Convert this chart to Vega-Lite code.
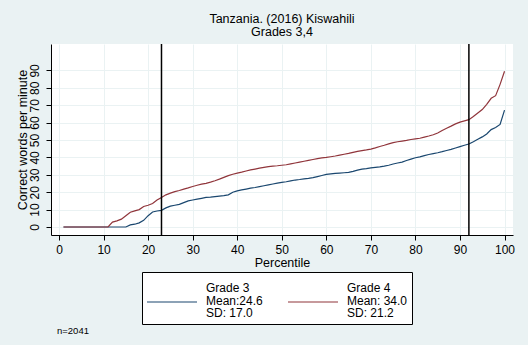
{
"$schema": "https://vega.github.io/schema/vega-lite/v6.json",
"background": "#EAF2F3",
"padding": {"left": 15, "top": 12, "right": 14, "bottom": 10},
"title": {"text": "n=2041", "orient": "bottom", "anchor": "start", "fontSize": 9.5, "fontWeight": "normal", "font": "Liberation Sans", "color": "black", "dx": 41, "offset": 1},
"vconcat": [{
"width": 462, "height": 191,
"title": {"text": ["Tanzania. (2016) Kiswahili", "Grades 3,4"], "fontSize": 12.5, "lineHeight": 13, "fontWeight": "normal", "font": "Liberation Sans", "color": "black", "anchor": "middle", "offset": 5},
"layer": [
{"data": {"values": [
{"p":1,"Grade 3":0,"Grade 4":0},{"p":2,"Grade 3":0,"Grade 4":0},{"p":3,"Grade 3":0,"Grade 4":0},{"p":4,"Grade 3":0,"Grade 4":0},{"p":5,"Grade 3":0,"Grade 4":0},
{"p":6,"Grade 3":0,"Grade 4":0},{"p":7,"Grade 3":0,"Grade 4":0},{"p":8,"Grade 3":0,"Grade 4":0},{"p":9,"Grade 3":0,"Grade 4":0},{"p":10,"Grade 3":0,"Grade 4":0},
{"p":11,"Grade 3":0,"Grade 4":0},{"p":12,"Grade 3":0,"Grade 4":2.8},{"p":13,"Grade 3":0,"Grade 4":3.5},{"p":14,"Grade 3":0,"Grade 4":4.5},{"p":15,"Grade 3":0,"Grade 4":6.5},
{"p":16,"Grade 3":1.2,"Grade 4":8.5},{"p":17,"Grade 3":1.6,"Grade 4":9.3},{"p":18,"Grade 3":2.4,"Grade 4":10},{"p":19,"Grade 3":3.8,"Grade 4":11.8},{"p":20,"Grade 3":6.5,"Grade 4":12.5},
{"p":21,"Grade 3":8.6,"Grade 4":13.5},{"p":22,"Grade 3":9.2,"Grade 4":15.5},{"p":23,"Grade 3":9.6,"Grade 4":17},{"p":24,"Grade 3":11,"Grade 4":18.5},{"p":25,"Grade 3":12,"Grade 4":19.5},
{"p":26,"Grade 3":12.5,"Grade 4":20.3},{"p":27,"Grade 3":13,"Grade 4":21},{"p":28,"Grade 3":14,"Grade 4":21.8},{"p":29,"Grade 3":15,"Grade 4":22.5},{"p":30,"Grade 3":15.5,"Grade 4":23.3},
{"p":31,"Grade 3":16,"Grade 4":24},{"p":32,"Grade 3":16.5,"Grade 4":24.6},{"p":33,"Grade 3":17,"Grade 4":25.1},{"p":34,"Grade 3":17.2,"Grade 4":25.8},{"p":35,"Grade 3":17.5,"Grade 4":26.6},
{"p":36,"Grade 3":17.8,"Grade 4":27.5},{"p":37,"Grade 3":18,"Grade 4":28.5},{"p":38,"Grade 3":18.5,"Grade 4":29.5},{"p":39,"Grade 3":20,"Grade 4":30.3},{"p":40,"Grade 3":20.8,"Grade 4":31},
{"p":41,"Grade 3":21.3,"Grade 4":31.5},{"p":42,"Grade 3":21.8,"Grade 4":32.2},{"p":43,"Grade 3":22.3,"Grade 4":32.8},{"p":44,"Grade 3":22.7,"Grade 4":33.3},{"p":45,"Grade 3":23.2,"Grade 4":33.8},
{"p":46,"Grade 3":23.7,"Grade 4":34.3},{"p":47,"Grade 3":24.2,"Grade 4":34.7},{"p":48,"Grade 3":24.7,"Grade 4":35},{"p":49,"Grade 3":25.2,"Grade 4":35.2},{"p":50,"Grade 3":25.7,"Grade 4":35.5},
{"p":51,"Grade 3":26,"Grade 4":35.8},{"p":52,"Grade 3":26.5,"Grade 4":36.3},{"p":53,"Grade 3":27,"Grade 4":36.8},{"p":54,"Grade 3":27.3,"Grade 4":37.3},{"p":55,"Grade 3":27.7,"Grade 4":37.8},
{"p":56,"Grade 3":28,"Grade 4":38.3},{"p":57,"Grade 3":28.4,"Grade 4":38.8},{"p":58,"Grade 3":29,"Grade 4":39.3},{"p":59,"Grade 3":29.6,"Grade 4":39.7},{"p":60,"Grade 3":30.2,"Grade 4":40},
{"p":61,"Grade 3":30.5,"Grade 4":40.4},{"p":62,"Grade 3":30.8,"Grade 4":40.8},{"p":63,"Grade 3":31,"Grade 4":41.3},{"p":64,"Grade 3":31.2,"Grade 4":41.8},{"p":65,"Grade 3":31.4,"Grade 4":42.3},
{"p":66,"Grade 3":32,"Grade 4":42.9},{"p":67,"Grade 3":32.7,"Grade 4":43.5},{"p":68,"Grade 3":33.3,"Grade 4":43.9},{"p":69,"Grade 3":33.6,"Grade 4":44.3},{"p":70,"Grade 3":34,"Grade 4":44.8},
{"p":71,"Grade 3":34.3,"Grade 4":45.5},{"p":72,"Grade 3":34.6,"Grade 4":46.3},{"p":73,"Grade 3":35,"Grade 4":47},{"p":74,"Grade 3":35.5,"Grade 4":47.8},{"p":75,"Grade 3":36.2,"Grade 4":48.5},
{"p":76,"Grade 3":36.8,"Grade 4":49},{"p":77,"Grade 3":37.3,"Grade 4":49.4},{"p":78,"Grade 3":38.2,"Grade 4":49.8},{"p":79,"Grade 3":39,"Grade 4":50.3},{"p":80,"Grade 3":39.8,"Grade 4":50.7},
{"p":81,"Grade 3":40.3,"Grade 4":51},{"p":82,"Grade 3":41,"Grade 4":51.7},{"p":83,"Grade 3":41.7,"Grade 4":52.3},{"p":84,"Grade 3":42.2,"Grade 4":53},{"p":85,"Grade 3":42.7,"Grade 4":54},
{"p":86,"Grade 3":43.3,"Grade 4":55.5},{"p":87,"Grade 3":44,"Grade 4":56.8},{"p":88,"Grade 3":44.6,"Grade 4":58},{"p":89,"Grade 3":45.4,"Grade 4":59.3},{"p":90,"Grade 3":46.2,"Grade 4":60.3},
{"p":91,"Grade 3":47,"Grade 4":61},{"p":92,"Grade 3":47.7,"Grade 4":61.7},{"p":93,"Grade 3":49,"Grade 4":63.5},{"p":94,"Grade 3":50.4,"Grade 4":65.5},{"p":95,"Grade 3":51.8,"Grade 4":67.5},
{"p":96,"Grade 3":53.5,"Grade 4":70.5},{"p":97,"Grade 3":56,"Grade 4":74},{"p":98,"Grade 3":57.2,"Grade 4":75.5},{"p":99,"Grade 3":59,"Grade 4":82},{"p":100,"Grade 3":67.2,"Grade 4":89.5}
]},
"transform": [{"fold": ["Grade 3", "Grade 4"], "as": ["g", "v"]}],
"mark": {"type": "line", "strokeWidth": 1.2},
"encoding": {
"x": {"field": "p", "type": "quantitative", "scale": {"domain": [-1.8, 101.9], "nice": false, "zero": false},
"axis": {"values": [0,10,20,30,40,50,60,70,80,90,100], "title": "Percentile", "labelPadding": 4, "titlePadding": 1, "grid": true}},
"y": {"field": "v", "type": "quantitative", "scale": {"domain": [-4.6, 105.2], "nice": false, "zero": false},
"axis": {"values": [0,10,20,30,40,50,60,70,80,90], "title": "Correct words per minute", "labelAngle": -90, "labelPadding": 5, "titlePadding": -1, "grid": true}},
"color": {"field": "g", "type": "nominal", "scale": {"domain": ["Grade 3", "Grade 4"], "range": ["#1A476F", "#90353B"]},
"legend": {"orient": "none", "legendX": 91, "legendY": 228, "offset": 0, "direction": "horizontal", "columns": 2, "title": null, "gridAlign": "none",
"symbolType": "stroke", "symbolSize": 2500, "symbolStrokeWidth": 1.2, "labelOffset": 8, "columnPadding": 22, "padding": 4,
"strokeColor": "black", "fillColor": "white", "labelFontSize": 12, "labelFont": "Liberation Sans", "labelColor": "black", "labelBaseline": "top",
"labelExpr": "datum.label == 'Grade 3' ? ['Grade 3', 'Mean:24.6', 'SD: 17.0'] : ['Grade 4', 'Mean: 34.0', 'SD: 21.2']",
"encode": {"labels": {"update": {"lineHeight": {"value": 12.7}, "dy": {"value": -19}}}}}}
}},
{"data": {"values": [{"x": 23}, {"x": 92}]},
"mark": {"type": "rule", "color": "black", "strokeWidth": 1.5},
"encoding": {"x": {"field": "x", "type": "quantitative"}}}
]
}],
"config": {
"font": "Liberation Sans",
"view": {"fill": "white", "stroke": null},
"axis": {"domainColor": "black", "tickColor": "black", "labelColor": "black", "titleColor": "black", "gridColor": "#EAF2F3", "gridWidth": 1,
"labelFontSize": 12, "titleFontSize": 12.5, "titleFontWeight": "normal", "tickSize": 5, "domainWidth": 1, "tickWidth": 1, "labelFont": "Liberation Sans", "titleFont": "Liberation Sans"}
}
}
